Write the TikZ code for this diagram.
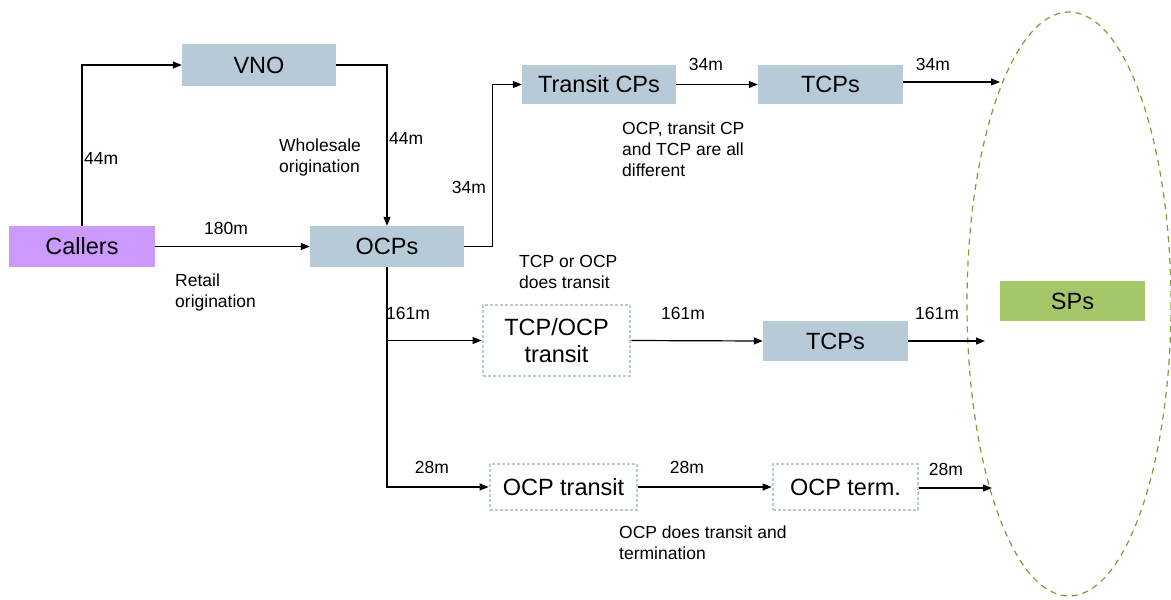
\documentclass[tikz,border=0pt]{standalone}
\usepackage{fontspec}
\setmainfont{Liberation Sans}
\usetikzlibrary{arrows.meta}
\definecolor{boxblue}{HTML}{B7CAD8}
\definecolor{callerpurple}{HTML}{CC99FF}
\definecolor{spgreen}{HTML}{A6C66A}
\definecolor{olive}{HTML}{7F9A3A}
\tikzset{
  solidbox/.style={rectangle, fill=boxblue, inner sep=0pt, font=\fontsize{23.5}{28}\selectfont, align=center},
  dotbox/.style={rectangle, draw=boxblue, line width=2.8pt, dash pattern=on 2.8pt off 2.2pt, inner sep=0pt, font=\fontsize{23.5}{27}\selectfont, align=center},
  lbl/.style={font=\fontsize{17.5}{21}\selectfont, inner sep=0pt},
  lbll/.style={lbl, align=left, anchor=west},
  conn/.style={line width=1.2pt, -{Triangle[length=9pt,width=7pt]}},
}
\begin{document}
\begin{tikzpicture}[x=1pt,y=-1pt]
\useasboundingbox (0,0) rectangle (1171,600);
% ellipse
\draw[olive, line width=1.2pt, dash pattern=on 6pt off 5pt] (1069,304) ellipse [x radius=102, y radius=292];
% nodes
\node[solidbox, fill=callerpurple, minimum width=146pt, minimum height=41pt] (callers) at (82,246.5) {Callers};
\node[solidbox, minimum width=154pt, minimum height=42pt] (vno) at (259,65) {VNO};
\node[solidbox, minimum width=154pt, minimum height=41pt] (ocps) at (387,246.5) {OCPs};
\node[solidbox, minimum width=154pt, minimum height=39pt] (transit) at (599,84.5) {Transit CPs};
\node[solidbox, minimum width=145pt, minimum height=39pt] (tcps1) at (830.5,84.5) {TCPs};
\node[dotbox, minimum width=147pt, minimum height=71pt] (tcpocp) at (556.5,340.5) {TCP/OCP\\transit};
\node[solidbox, minimum width=145pt, minimum height=40pt] (tcps2) at (835.5,341) {TCPs};
\node[dotbox, minimum width=147pt, minimum height=46pt] (ocptr) at (563.5,487) {OCP transit};
\node[dotbox, minimum width=145pt, minimum height=46pt] (ocpterm) at (845.5,487) {OCP term.};
\node[solidbox, fill=spgreen, minimum width=145pt, minimum height=40pt] (sps) at (1072.5,301) {SPs};
% free ends at the ellipse
\coordinate (e1) at (1000,82);
\coordinate (e2) at (985,341);
\coordinate (e3) at (992,488);
% connectors
\draw[conn] (callers.north) |- (vno.west);
\draw[conn] (vno.east) -| (ocps.north);
\draw[conn] (callers.east) -- (ocps.west);
\draw[conn] (ocps.east) -- ++(28,0) |- (transit.west);
\draw[conn] (transit.east) -- (tcps1.west);
\draw[conn] (tcps1.east |- e1) -- (e1);
\draw[conn] (ocps.south) |- (ocptr.west);
\draw[conn] (ocps.south |- tcpocp.west) -- (tcpocp.west);
\draw[conn] (tcpocp.east) -- (tcps2.west);
\draw[conn] (tcps2.east) -- (e2);
\draw[conn] (ocptr.east) -- (ocpterm.west);
\draw[conn] (ocpterm.east |- e3) -- (e3);
% labels
\node[lbll] (l44a) at (84,158) {44m};
\node[lbll] (l44b) at (389,138) {44m};
\node[lbll] (lwhole) at (279,157) {Wholesale\\origination};
\node[lbl] (l180) at (226,228) {180m};
\node[lbll] (lretail) at (175,292) {Retail\\origination};
\node[lbl] (l34a) at (469,187) {34m};
\node[lbl] (l34b) at (706,64) {34m};
\node[lbl] (l34c) at (933,64) {34m};
\node[lbll] (ldiff) at (622,149) {OCP, transit CP\\and TCP are all\\different};
\node[lbll] (ltcpocp) at (519,272) {TCP or OCP\\does transit};
\node[lbl] (l161a) at (408,313) {161m};
\node[lbl] (l161b) at (683,313) {161m};
\node[lbl] (l161c) at (937,313) {161m};
\node[lbl] (l28a) at (432,467) {28m};
\node[lbl] (l28b) at (687,467) {28m};
\node[lbl] (l28c) at (946,469) {28m};
\node[lbll] (locp) at (619,543) {OCP does transit and\\termination};
\end{tikzpicture}
\end{document}
